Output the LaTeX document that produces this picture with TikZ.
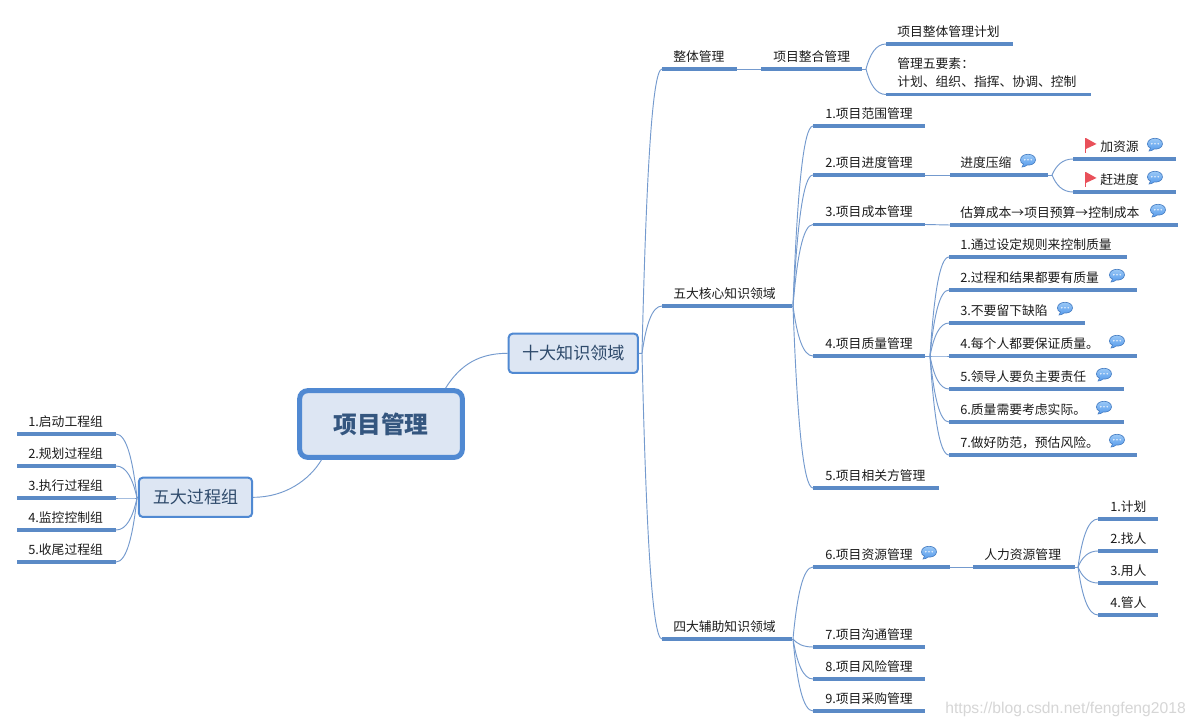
\documentclass[tikz,border=0pt]{standalone}
\usepackage{fontspec}
\setmainfont{Noto Sans CJK SC}
\usetikzlibrary{calc,shadings}
\definecolor{bar}{HTML}{5B8AC6}
\definecolor{conn}{HTML}{749ACE}
\definecolor{boxfill}{HTML}{DDE6F3}
\definecolor{boxline}{HTML}{5089D2}
\definecolor{boxtext}{HTML}{2E4A6B}
\definecolor{roottext}{HTML}{34567F}
\definecolor{txt}{HTML}{1C1C1C}
\definecolor{flagred}{HTML}{E9505A}
\definecolor{bubtop}{HTML}{A4CFF8}
\definecolor{bubbot}{HTML}{559AEC}
\definecolor{bubline}{HTML}{4A80C4}
\tikzset{
  barline/.style={draw=bar,line width=2.4pt},
  connline/.style={draw=conn,line width=0.7pt},
  toplabel/.style={inner sep=0pt,anchor=west,text=txt,font=\fontsize{9.6}{11}\selectfont},
  midbox/.style={draw=boxline,fill=boxfill,line width=1.5pt,rounded corners=3pt,text=boxtext,font=\fontsize{12.8}{14}\selectfont,inner sep=0pt},
  rootbox/.style={draw=boxline,fill=boxfill,line width=3.75pt,rounded corners=6pt,text=roottext,font=\fontsize{17.8}{20}\selectfont\bfseries,inner sep=0pt},
  wmark/.style={inner sep=0pt,text=black!16,font=\fontsize{11.75}{13}\selectfont},
  notebubble/.pic={
    \path[top color=bubtop,bottom color=bubbot,draw=bubline,line width=0.5pt]
      (-7.5,0) .. controls (-7.5,-7.6) and (7.5,-7.6) .. (7.5,0)
      .. controls (7.5,4) and (2,5.5) .. (-1,5)
      .. controls (-2,6) and (-4,7) .. (-6,7)
      .. controls (-5,6) and (-4.5,5) .. (-4.5,4)
      .. controls (-6.5,3.5) and (-7.5,2) .. (-7.5,0) -- cycle;
    \fill[white!85!bubbot] (-3.2,-0.3) circle (0.9) (0,-0.3) circle (0.9) (3.2,-0.3) circle (0.9);
  },
  redflag/.pic={
    \draw[flagred,line width=1.2pt] (0,-7) -- (0,7.5);
    \fill[flagred] (0.3,-7) -- (11,-1) -- (0.3,4) -- cycle;
  }
}
% name, x1, x2, y, text x, text
\newcommand{\topicitem}[6]{%
  \coordinate (#1L) at (#2,#4);
  \coordinate (#1R) at (#3,#4);
  \draw[barline] (#1L) -- (#1R);
  \node[toplabel] (#1) at (#5,#4-12.5) {#6};
}
% spring from a junction to a target end
\newcommand{\branch}[2]{%
  \draw[connline] let \p1=(#1),\p2=(#2) in (\p1) .. controls ({\x1+0.2*(\x2-\x1)},{\y1+0.6*(\y2-\y1)}) and ({\x1+0.5*(\x2-\x1)},\y2) .. (\p2);
}
\begin{document}
\begin{tikzpicture}[x=0.75pt,y=-0.75pt]
\useasboundingbox (0,0) rectangle (1196,728);
\fill[white] (0,0) rectangle (1196,728);

% central boxes
\node[rootbox,minimum width=122pt,minimum height=50pt] (root) at (381,424) {项目管理};
\node[midbox,minimum width=97pt,minimum height=29.5pt] (ten) at (573.3,353.3) {十大知识领域};
\node[midbox,minimum width=85pt,minimum height=29.5pt] (five) at (195.5,497.3) {五大过程组};

% left
\topicitem{pa}{17}{116}{434}{28}{1.启动工程组}
\topicitem{pb}{17}{116}{466}{28}{2.规划过程组}
\topicitem{pc}{17}{116}{498}{28}{3.执行过程组}
\topicitem{pd}{17}{116}{530}{28}{4.监控控制组}
\topicitem{pe}{17}{116}{562}{28}{5.收尾过程组}

% first level
\topicitem{ka}{662}{737}{69}{673}{整体管理}
\topicitem{kb}{662}{792}{306}{673}{五大核心知识领域}
\topicitem{kc}{662}{792}{639}{673}{四大辅助知识领域}

% integration
\topicitem{ia}{761}{862}{69}{773}{项目整合管理}
\topicitem{ib}{886}{1013}{44}{897}{项目整体管理计划}
\coordinate (icL) at (886,94.5);
\coordinate (icR) at (1091,94.5);
\draw[barline] (icL) -- (icR);
\node[toplabel,align=left,font=\fontsize{9.6}{13.5}\selectfont] (ic) at (897,72.5) {管理五要素：\\计划、组织、指挥、协调、控制};

% core
\topicitem{ca}{813}{925}{126}{825}{1.项目范围管理}
\topicitem{cb}{813}{925}{175}{825}{2.项目进度管理}
\topicitem{cc}{813}{925}{224.5}{825}{3.项目成本管理}
\topicitem{cd}{813}{925}{356}{825}{4.项目质量管理}
\topicitem{ce}{813}{939}{488}{825}{5.项目相关方管理}

\topicitem{sa}{950}{1048}{175}{960}{进度压缩}
\topicitem{sb}{1073}{1176}{159}{1100}{加资源}
\topicitem{sc}{1073}{1176}{192}{1100}{赶进度}
\topicitem{sd}{950}{1178}{225}{960}{估算成本→项目预算→控制成本}

\topicitem{qa}{949}{1127}{257}{960}{1.通过设定规则来控制质量}
\topicitem{qb}{949}{1137}{290}{960}{2.过程和结果都要有质量}
\topicitem{qc}{949}{1085}{323}{960}{3.不要留下缺陷}
\topicitem{qd}{949}{1137}{356}{960}{4.每个人都要保证质量。}
\topicitem{qe}{949}{1124}{389}{960}{5.领导人要负主要责任}
\topicitem{qf}{949}{1124}{422}{960}{6.质量需要考虑实际。}
\topicitem{qg}{949}{1137}{455}{960}{7.做好防范，预估风险。}

% support
\topicitem{ra}{813}{950}{567}{825}{6.项目资源管理}
\topicitem{rb}{813}{925}{647}{825}{7.项目沟通管理}
\topicitem{rc}{813}{925}{679}{825}{8.项目风险管理}
\topicitem{rd}{813}{925}{711}{825}{9.项目采购管理}
\topicitem{ha}{973}{1075}{567}{984}{人力资源管理}
\topicitem{hb}{1098}{1158}{519}{1110}{1.计划}
\topicitem{hc}{1098}{1158}{551}{1110}{2.找人}
\topicitem{hd}{1098}{1158}{583}{1110}{3.用人}
\topicitem{he}{1098}{1158}{615}{1110}{4.管人}

% junctions
\coordinate (jten) at (642,353.5);
\coordinate (jfive) at (137,498);
\coordinate (jia) at (866,69);
\coordinate (jsa) at (1052,175);
\coordinate (jkb) at (793,306);
\coordinate (jkc) at (793,639);
\coordinate (jcd) at (930,356);
\coordinate (jha) at (1078,567);

% connectors
\draw[connline] ($(root.north west)!0.885!(root.north east)$) .. controls +(15,-24) and +(-28,0) .. (ten.west);
\draw[connline] ($(root.south west)!0.145!(root.south east)$) .. controls +(-12,20) and +(32,0) .. (five.east);
\draw[connline] (ten.east) -- (jten);
\draw[connline] (five.west) -- (jfive);
\foreach \t in {pa,pb,pc,pd,pe} {\branch{jfive}{\t R}}
\foreach \t in {kaL,kbL,kcL} {\branch{jten}{\t}}
\draw[connline] (kaR) -- (iaL);
\draw[connline] (iaR) -- (jia);
\foreach \t in {ib,ic} {\branch{jia}{\t L}}
\draw[connline] (kbR) -- (jkb);
\foreach \t in {ca,cb,cc,cd,ce} {\branch{jkb}{\t L}}
\draw[connline] (cbR) -- (saL);
\draw[connline] (saR) -- (jsa);
\foreach \t in {sb,sc} {\branch{jsa}{\t L}}
\draw[connline] (ccR) -- (sdL);
\draw[connline] (cdR) -- (jcd);
\foreach \t in {qa,qb,qc,qd,qe,qf,qg} {\branch{jcd}{\t L}}
\draw[connline] (kcR) -- (jkc);
\foreach \t in {ra,rb,rc,rd} {\branch{jkc}{\t L}}
\draw[connline] (raR) -- (haL);
\draw[connline] (haR) -- (jha);
\foreach \t in {hb,hc,hd,he} {\branch{jha}{\t L}}

% markers
\path (1085.5,145) pic {redflag};
\path (1085.5,179) pic {redflag};
\path (1028,160) pic {notebubble};
\path (1155,144) pic {notebubble};
\path (1155,177) pic {notebubble};
\path (1158,210) pic {notebubble};
\path (1117,275) pic {notebubble};
\path (1065,308) pic {notebubble};
\path (1117,341) pic {notebubble};
\path (1104,374) pic {notebubble};
\path (1104,407) pic {notebubble};
\path (1117,440) pic {notebubble};
\path (929,552) pic {notebubble};

% watermark
\node[wmark,anchor=east] (wm) at (1186,709) {\fontspec{Liberation Sans}https://blog.csdn.net/fengfeng2018};
\end{tikzpicture}
\end{document}
